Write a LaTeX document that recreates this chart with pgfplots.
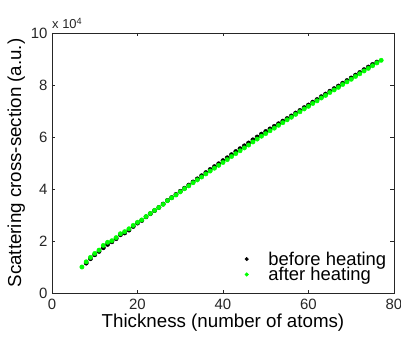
\documentclass[border=0pt]{standalone}
\usepackage{fontspec}
\setmainfont{Liberation Sans}
\usepackage{pgfplots}
\pgfplotsset{compat=1.18}
\usepackage{pgfplotstable}

\definecolor{axgray}{RGB}{38,38,38}
\definecolor{ptgreen}{RGB}{0,255,0}

\newcommand\legfont{\fontsize{18.5}{18.5}\selectfont}

% thickness (atoms) vs scattering cross-section (units of 10^4)
\pgfplotstableread{
x y
8 1.15
9 1.32
10 1.47
11 1.60
12 1.74
13 1.87
14 1.97
15 2.09
16 2.24
17 2.31
18 2.42
19 2.56
20 2.69
21 2.79
22 2.93
23 3.05
24 3.17
25 3.29
26 3.42
27 3.56
28 3.67
29 3.79
30 3.91
31 4.03
32 4.15
33 4.27
34 4.39
35 4.51
36 4.63
37 4.75
38 4.86
39 4.97
40 5.09
41 5.20
42 5.32
43 5.44
44 5.55
45 5.66
46 5.77
47 5.89
48 6.00
49 6.11
50 6.21
51 6.31
52 6.41
53 6.51
54 6.61
55 6.71
56 6.81
57 6.92
58 7.02
59 7.13
60 7.23
61 7.34
62 7.44
63 7.55
64 7.65
65 7.76
66 7.86
67 7.96
68 8.07
69 8.17
70 8.27
71 8.38
72 8.48
73 8.59
74 8.69
75 8.79
76 8.88
}\before

\pgfplotstableread{
x y
7 1.00
8 1.20
9 1.37
10 1.52
11 1.65
12 1.83
13 1.95
14 2.01
15 2.13
16 2.28
17 2.36
18 2.47
19 2.60
20 2.72
21 2.81
22 2.94
23 3.06
24 3.18
25 3.29
26 3.41
27 3.55
28 3.66
29 3.77
30 3.89
31 4.01
32 4.12
33 4.24
34 4.35
35 4.46
36 4.58
37 4.69
38 4.80
39 4.91
40 5.02
41 5.13
42 5.25
43 5.36
44 5.47
45 5.58
46 5.69
47 5.81
48 5.92
49 6.03
50 6.13
51 6.24
52 6.34
53 6.45
54 6.55
55 6.66
56 6.76
57 6.87
58 6.97
59 7.08
60 7.18
61 7.29
62 7.39
63 7.50
64 7.60
65 7.71
66 7.81
67 7.91
68 8.02
69 8.12
70 8.22
71 8.33
72 8.43
73 8.54
74 8.64
75 8.74
76 8.85
77 8.95
}\after

\begin{document}
\begin{tikzpicture}
\useasboundingbox (-52bp,-44bp) rectangle (349bp,293bp);
\begin{axis}[
  at={(0,0)}, anchor=south west,
  scale only axis, width=342bp, height=260bp,
  xmin=0, xmax=80, ymin=0, ymax=10,
  xtick={0,20,...,80}, ytick={0,2,...,10},
  tick align=inside, major tick length=3.5bp,
  axis line style={axgray, line width=0.6pt},
  every tick/.style={axgray, line width=0.6pt},
  tick label style={font=\fontsize{15}{18}\selectfont, text=axgray},
  /pgf/number format/assume math mode=true,
  xticklabel style={yshift=-3bp},
  yticklabel style={xshift=-1bp},
  xlabel={Thickness (number of atoms)},
  ylabel={Scattering cross-section (a.u.)},
  label style={font=\fontsize{18.8}{21}\selectfont, text=black},
  xlabel style={yshift=3bp},
  ylabel style={yshift=-1bp},
  legend style={draw=none, fill=none, at={(rel axis cs:0.978,0.042)}, anchor=south east,
    font=\legfont, row sep=0.5bp, inner sep=0bp,
    nodes={inner sep=0bp, font=\legfont}},
  legend cell align=left,
  legend image code/.code={%
    \path (0bp,0bp) (19bp,0bp);
    \draw[#1, mark size=1.8bp] plot coordinates {(-2.5bp,0bp)};},
  clip=false,
]
\addplot[only marks, mark=*, mark size=2.2bp, draw=black, fill=black] table {\before};
\addlegendentry{\legfont before heating}
\addplot[only marks, mark=*, mark size=2.2bp, draw=ptgreen, fill=ptgreen] table {\after};
\addlegendentry{\legfont after heating}
\node[anchor=south west, font=\fontsize{13}{15}\selectfont, text=axgray, inner sep=0pt]
  at (rel axis cs:0,1) [yshift=4bp] {x 10\textsuperscript{4}};
\end{axis}
\end{tikzpicture}
\end{document}
